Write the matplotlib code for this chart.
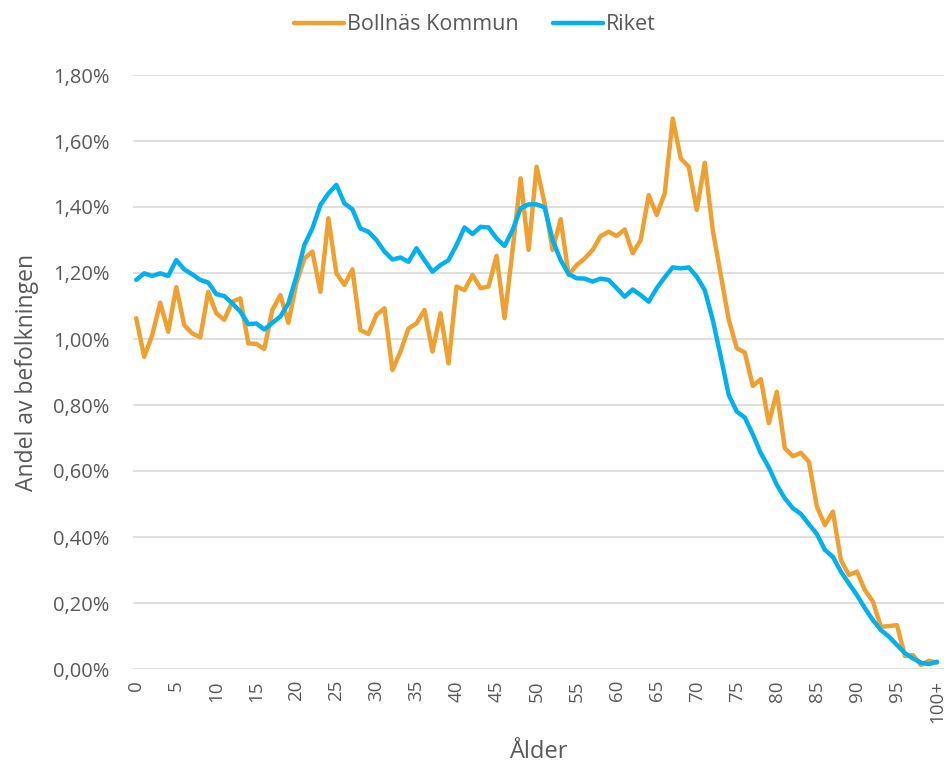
import matplotlib
matplotlib.use("Agg")
import matplotlib.pyplot as plt
from matplotlib.ticker import FuncFormatter

# andel av befolkningen per ålder, i procent
ages = list(range(101))
age_labels = [str(a) if a < 100 else "100+" for a in ages]

bollnas = [
    1.063, 0.946, 1.012, 1.110, 1.022, 1.157, 1.042, 1.017, 1.005, 1.143,
    1.078, 1.058, 1.113, 1.123, 0.987, 0.985, 0.970, 1.088, 1.133, 1.049,
    1.169, 1.244, 1.265, 1.143, 1.366, 1.199, 1.164, 1.211, 1.027, 1.015,
    1.073, 1.093, 0.906, 0.962, 1.032, 1.047, 1.088, 0.962, 1.078, 0.926,
    1.159, 1.148, 1.194, 1.154, 1.159, 1.252, 1.063, 1.270, 1.487, 1.270,
    1.522, 1.411, 1.270, 1.363, 1.194, 1.224, 1.244, 1.270, 1.312, 1.325,
    1.312, 1.332, 1.260, 1.300, 1.436, 1.376, 1.441, 1.668, 1.547, 1.522,
    1.391, 1.534, 1.330, 1.194, 1.058, 0.972, 0.959, 0.858, 0.878, 0.745,
    0.840, 0.669, 0.645, 0.655, 0.628, 0.492, 0.436, 0.477, 0.330, 0.285,
    0.295, 0.239, 0.204, 0.128, 0.130, 0.133, 0.039, 0.042, 0.012, 0.025,
    0.019,
]

riket = [
    1.179, 1.199, 1.191, 1.199, 1.191, 1.239, 1.211, 1.196, 1.179, 1.171,
    1.136, 1.130, 1.108, 1.083, 1.045, 1.047, 1.029, 1.049, 1.068, 1.108,
    1.189, 1.285, 1.335, 1.406, 1.441, 1.467, 1.411, 1.393, 1.335, 1.325,
    1.300, 1.265, 1.241, 1.247, 1.234, 1.275, 1.239, 1.204, 1.224, 1.239,
    1.285, 1.338, 1.318, 1.340, 1.338, 1.305, 1.282, 1.330, 1.396, 1.408,
    1.408, 1.399, 1.300, 1.239, 1.197, 1.184, 1.183, 1.174, 1.183, 1.179,
    1.154, 1.128, 1.150, 1.133, 1.113, 1.154, 1.187, 1.217, 1.214, 1.217,
    1.189, 1.148, 1.058, 0.946, 0.830, 0.780, 0.762, 0.711, 0.654, 0.611,
    0.558, 0.517, 0.487, 0.470, 0.439, 0.409, 0.361, 0.340, 0.295, 0.259,
    0.224, 0.184, 0.148, 0.118, 0.098, 0.073, 0.048, 0.032, 0.019, 0.015,
    0.022,
]

text_color = "#595959"
grid_color = "#d9d9d9"
plt.rcParams["font.family"] = ["Open Sans", "DejaVu Sans"]

fig = plt.figure(figsize=(9.45, 7.67), dpi=100)
ax = fig.add_axes([133 / 945, 1 - 669 / 767, 1 - 133 / 945, (669 - 75) / 767])

ax.plot(ages, bollnas, color="#F0A030", lw=3.2, label="Bollnäs Kommun",
        solid_joinstyle="round", solid_capstyle="round", zorder=3)
ax.plot(ages, riket, color="#00B0F0", lw=3.2, label="Riket",
        solid_joinstyle="round", solid_capstyle="round", zorder=4)

ax.set_xlim(-0.4, 101)
ax.set_ylim(0, 1.8)
ax.set_yticks([i * 0.2 for i in range(10)])
ax.yaxis.set_major_formatter(FuncFormatter(lambda v, p: f"{v:.2f}%".replace(".", ",")))
ax.set_xticks(ages[::5])
ax.set_xticklabels(age_labels[::5], rotation=90)

ax.grid(axis="y", color=grid_color, lw=1.2)
ax.set_axisbelow(True)
for s in ax.spines.values():
    s.set_visible(False)
ax.tick_params(axis="both", length=0, colors=text_color)
ax.tick_params(axis="y", pad=17, labelsize=14.5)
ax.tick_params(axis="x", pad=8, labelsize=13.5)

ax.set_xlabel("Ålder", color=text_color, fontsize=17, labelpad=12)
ax.set_ylabel("Andel av befolkningen", color=text_color, fontsize=16.5, labelpad=10)

leg = fig.legend(loc="center", bbox_to_anchor=(475 / 945, 1 - 25 / 767), ncol=2,
                 frameon=False, fontsize=15.5, handlelength=2.3, handletextpad=0.15,
                 columnspacing=1.6)
for t in leg.get_texts():
    t.set_color(text_color)

fig.savefig("out.png", dpi=100)
